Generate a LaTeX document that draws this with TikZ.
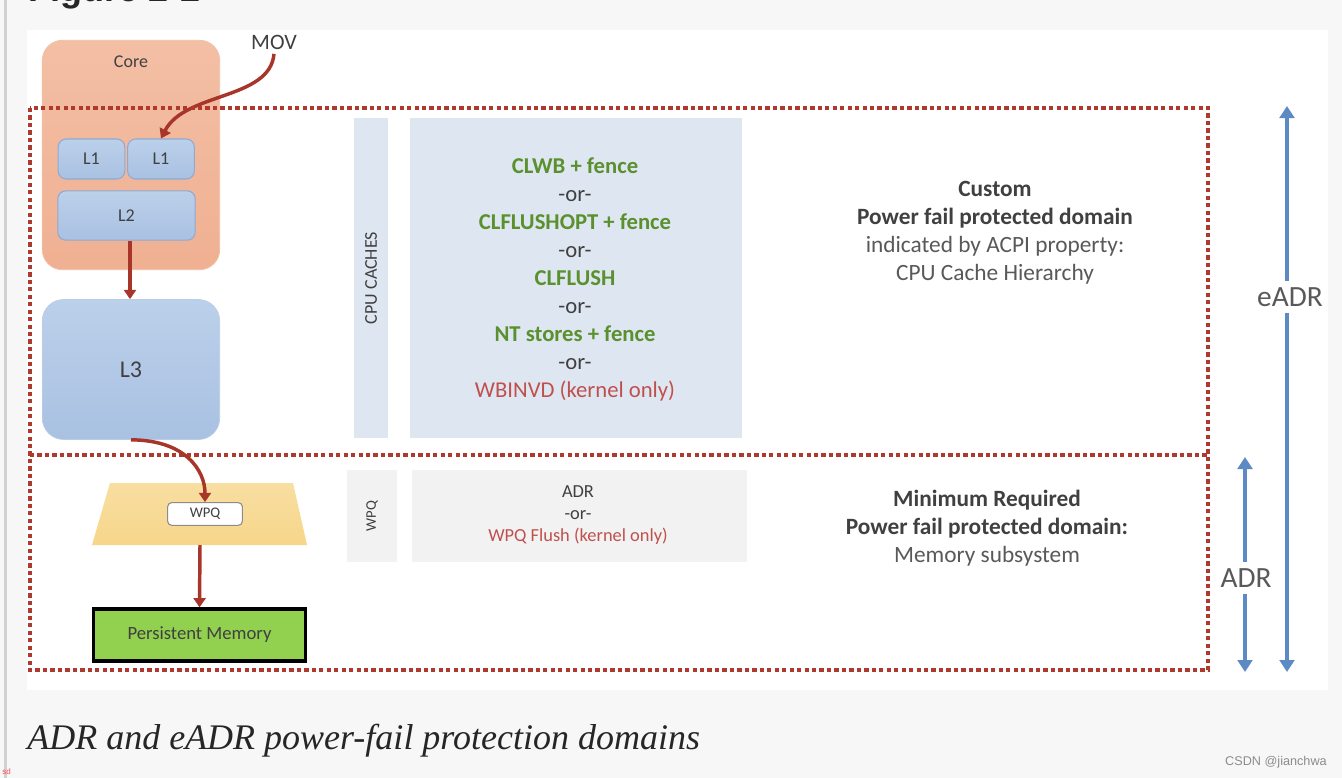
\documentclass[tikz,border=0pt]{standalone}
\usepackage{fontspec}
\setmainfont{Carlito}
\newfontfamily\capfont{Liberation Serif}
\newfontfamily\headfont{Liberation Sans}
\usetikzlibrary{arrows.meta}
\definecolor{pagebg}{HTML}{F7F7F7}
\definecolor{corefill}{HTML}{F0B092}
\definecolor{coretop}{HTML}{F3BFA5}
\definecolor{lblue}{HTML}{A9C1E2}
\definecolor{lbluetop}{HTML}{BBD0EA}
\definecolor{lblueline}{HTML}{8FAAD2}
\definecolor{darkred}{HTML}{A8352A}
\definecolor{dotred}{HTML}{B0392E}
\definecolor{cachebg}{HTML}{DEE7F1}
\definecolor{wpqbg}{HTML}{F2F2F2}
\definecolor{yellowtrap}{HTML}{F6D68A}
\definecolor{pmgreen}{HTML}{92D050}
\definecolor{txtgreen}{HTML}{5B902E}
\definecolor{txtred}{HTML}{C0504D}
\definecolor{txtdark}{HTML}{404040}
\definecolor{txtgray}{HTML}{595959}
\definecolor{arrblue}{HTML}{5B8AC4}
\newcommand{\myfs}[2]{\fontsize{#1}{#2}\selectfont}
\tikzset{
  lbox/.style={draw=lblueline, line width=0.8pt, rounded corners=6pt, top color=lbluetop, bottom color=lblue, text=txtdark, font=\myfs{13.5}{15}},
  redarrow/.style={draw=darkred, line width=2.6pt, -{Triangle[width=9pt,length=7pt]}},
  bluearrow/.style={draw=arrblue, line width=3.6pt, -{Triangle[width=11pt,length=9pt]}},
  dotline/.style={draw=dotred, line width=3.2pt, dash pattern=on 3.2pt off 2.4pt},
}
\begin{document}
\begin{tikzpicture}[x=0.75pt,y=-0.75pt]
\useasboundingbox (0,0) rectangle (1342,778);
\fill[pagebg] (0,0) rectangle (1342,778);
\fill[white] (27,30) rectangle (1328,690);
\fill[black!18] (4,0) rectangle (7,778);
% title (cut off at the top, as in the reference)
\node[anchor=base west, inner sep=0pt, font=\headfont\bfseries\myfs{27}{30}, text=black!85] (title) at (28,2) {Figure 2-2};

% Core
\node[draw=coretop, line width=0.6pt, rounded corners=15pt, top color=coretop, bottom color=corefill, minimum width=133pt, minimum height=172pt, inner sep=0pt] (core) at (131,155) {};
\node[font=\myfs{13.5}{15}, text=txtdark] (corelbl) at (131,62) {Core};
\node[lbox, minimum width=50pt, minimum height=30pt, inner sep=0pt] (L1a) at (91.5,159) {L1};
\node[lbox, minimum width=50pt, minimum height=30pt, inner sep=0pt] (L1b) at (161,159) {L1};
\node[lbox, minimum width=103pt, minimum height=37pt, inner sep=0pt] (L2) at (126.5,215.5) {L2};
\node[draw=lblueline!60, line width=0.5pt, rounded corners=16pt, top color=lbluetop, bottom color=lblue, minimum width=133pt, minimum height=105pt, inner sep=0pt, text=txtdark, font=\myfs{18}{20}] (L3) at (131,369.5) {L3};
\node[font=\myfs{16.5}{18}, text=txtdark] (mov) at (274,42) {MOV};

\draw[redarrow] (L2.south -| 130,0) -- (L3.north -| 130,0);
\draw[redarrow] (mov.south) .. controls (270,100) and (185,92) .. (L1b.north);

% dotted domains
\draw[dotline] (30,108) rectangle (1208,670);
\draw[dotline] (30,455) -- (1208,455);

% CPU caches
\node[fill=cachebg, minimum width=26pt, minimum height=240pt, inner sep=0pt] (cpubar) at (371,278) {};
\node[rotate=90, font=\myfs{13.5}{15}, text=txtdark] (cpulbl) at (cpubar.center) {CPU CACHES};
\node[fill=cachebg, minimum width=249pt, minimum height=240pt, inner sep=0pt] (instr) at (575.5,278) {};
\node[align=center, font=\myfs{17}{21}, text=txtdark] (instrtxt) at (575,279.5) {%
  \textcolor{txtgreen}{\bfseries CLWB + fence}\\
  -or-\\
  \textcolor{txtgreen}{\bfseries CLFLUSHOPT + fence}\\
  -or-\\
  \textcolor{txtgreen}{\bfseries CLFLUSH}\\
  -or-\\
  \textcolor{txtgreen}{\bfseries NT stores + fence}\\
  -or-\\
  \textcolor{txtred}{WBINVD (kernel only)}};
\node[align=center, font=\myfs{17.5}{21}, text=txtgray] (custom) at (995,233) {%
  \textcolor{txtdark}{\bfseries Custom}\\
  \textcolor{txtdark}{\bfseries Power fail protected domain}\\
  indicated by ACPI property:\\
  CPU Cache Hierarchy};

% lower domain
\path[top color=yellowtrap!80!white, bottom color=yellowtrap, draw=none] (110,483) -- (293,483) -- (307,545) -- (92,545) -- cycle;
\coordinate (trapbot) at (200,545);
\node[draw=black!45, line width=0.8pt, fill=white, rounded corners=3pt, minimum width=56pt, minimum height=17pt, inner sep=0pt, font=\myfs{11}{12}, text=txtdark] (wpq) at (205,514) {WPQ};
\draw[redarrow] (L3.south) .. controls (185,440) and (205,470) .. (wpq.north);
\node[draw=black, line width=2.4pt, fill=pmgreen, minimum width=159pt, minimum height=39pt, inner sep=0pt, font=\myfs{14}{16}, text=txtdark] (pm) at (199.5,635) {Persistent Memory};
\draw[redarrow] (trapbot) -- (pm.north);

\node[fill=wpqbg, minimum width=37pt, minimum height=69pt, inner sep=0pt] (wpqbar) at (372,516) {};
\node[rotate=90, font=\myfs{11}{12}, text=txtdark] (wpqlbl) at (wpqbar.center) {WPQ};
\node[fill=wpqbg, minimum width=251pt, minimum height=69pt, inner sep=0pt] (adrbox) at (579.5,516) {};
\node[align=center, font=\myfs{13.8}{16.5}, text=txtdark] (adrtxt) at (578,515) {ADR\\-or-\\\textcolor{txtred}{WPQ Flush (kernel only)}};
\node[align=center, font=\myfs{17.5}{21}, text=txtgray] (minreq) at (987,528) {%
  \textcolor{txtdark}{\bfseries Minimum Required}\\
  \textcolor{txtdark}{\bfseries Power fail protected domain:}\\
  Memory subsystem};

% side arrows
\coordinate (etop) at (1287,106);
\coordinate (ebot) at (1287,672);
\coordinate (atop) at (1245,457);
\coordinate (abot) at (1245,672);
\node[font=\myfs{22}{24}, text=txtgray, inner sep=5pt] (eadr) at (1290,297) {eADR};
\node[font=\myfs{22}{24}, text=txtgray, inner sep=5pt] (adr) at (1246,578) {ADR};
\draw[bluearrow] (eadr.north -| etop) -- (etop);
\draw[bluearrow] (eadr.south -| ebot) -- (ebot);
\draw[bluearrow] (adr.north -| atop) -- (atop);
\draw[bluearrow] (adr.south -| abot) -- (abot);

% caption & marks
\node[anchor=base west, inner sep=0pt, font=\capfont\itshape\myfs{27}{30}, text=black!85] (caption) at (27,749) {ADR and eADR power-fail protection domains};
\node[anchor=east, inner sep=0pt, font=\headfont\myfs{9.5}{11}, text=black!45] (wm) at (1327,762) {CSDN @jianchwa};
\node[anchor=west, inner sep=0pt, font=\headfont\myfs{6}{7}, text=red!70] (sd) at (2,772) {sd};
\end{tikzpicture}
\end{document}
